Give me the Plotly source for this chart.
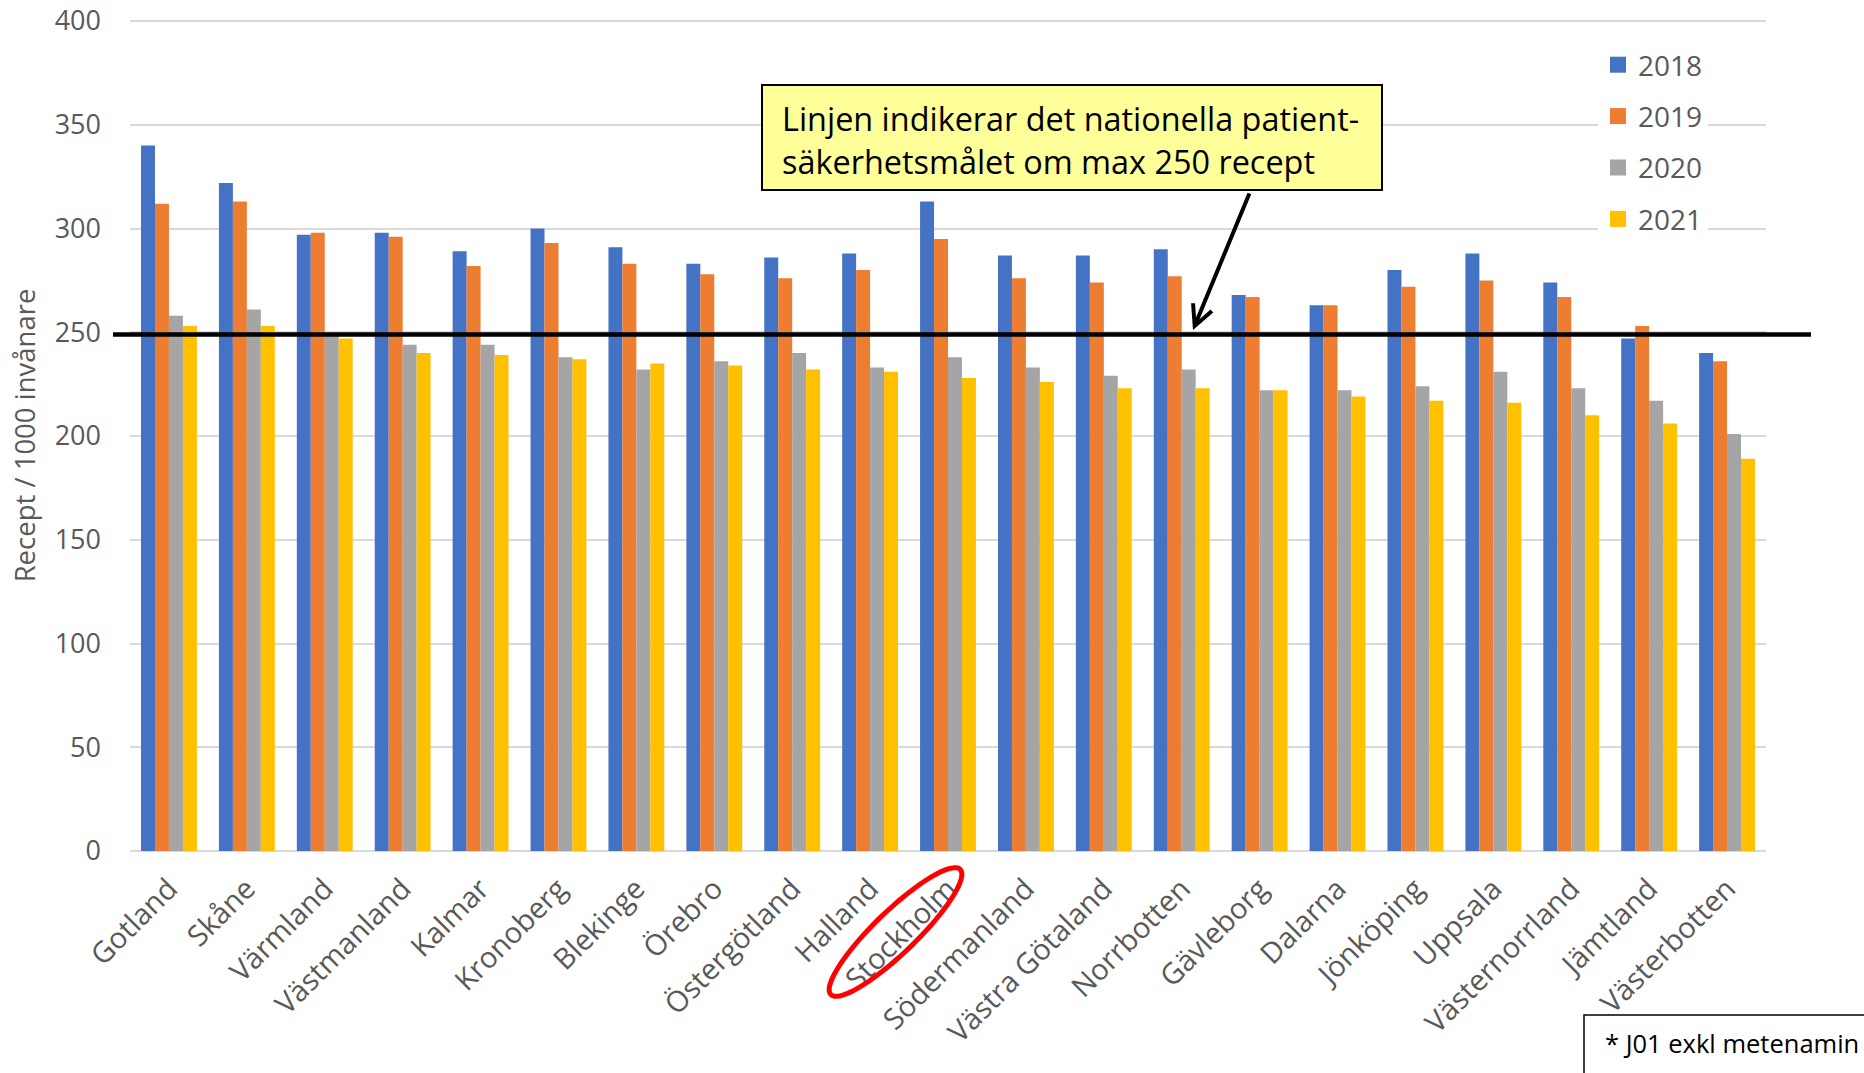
import math
import plotly.graph_objects as go

regions = ["Gotland", "Skåne", "Värmland", "Västmanland", "Kalmar", "Kronoberg",
           "Blekinge", "Örebro", "Östergötland", "Halland", "Stockholm",
           "Södermanland", "Västra Götaland", "Norrbotten", "Gävleborg", "Dalarna",
           "Jönköping", "Uppsala", "Västernorrland", "Jämtland", "Västerbotten"]

v2018 = [340, 322, 297, 298, 289, 300, 291, 283, 286, 288, 313, 287, 287, 290, 268, 263, 280, 288, 274, 247, 240]
v2019 = [312, 313, 298, 296, 282, 293, 283, 278, 276, 280, 295, 276, 274, 277, 267, 263, 272, 275, 267, 253, 236]
v2020 = [258, 261, 249, 244, 244, 238, 232, 236, 240, 233, 238, 233, 229, 232, 222, 222, 224, 231, 223, 217, 201]
v2021 = [253, 253, 247, 240, 239, 237, 235, 234, 232, 231, 228, 226, 223, 223, 222, 219, 217, 216, 210, 206, 189]

years = ["2018", "2019", "2020", "2021"]
colors = ["#4472C4", "#ED7D31", "#A5A5A5", "#FFC000"]
series = [v2018, v2019, v2020, v2021]

target = 248.9
y_ticks = [0, 50, 100, 150, 200, 250, 300, 350, 400]
y_max = 400.5

FONT = "Open Sans"
GREY = "#595959"

W, H = 1864, 1073
L, T = 130, 20
R = W - 1766
B = H - 851
PW, PH = W - L - R, H - T - B


def px_to_paper(px, py):
    return (px - L) / PW, (H - B - py) / PH


fig = go.Figure()
for name, vals, col in zip(years, series, colors):
    fig.add_trace(go.Bar(name=name, x=regions, y=vals, marker=dict(color=col, line=dict(width=0)),
                         showlegend=False))
# legend entries with bigger square symbols
for name, col in zip(years, colors):
    fig.add_trace(go.Scatter(name=name, x=[None], y=[None], mode="markers", legendgroup=name,
                             marker=dict(symbol="square", size=16, color=col)))

shapes = []
# target line
x0p, _ = px_to_paper(113, 0)
x1p, _ = px_to_paper(1811, 0)
shapes.append(dict(type="line", xref="paper", yref="y", x0=x0p, x1=x1p, y0=target, y1=target,
                   line=dict(color="black", width=4.5), layer="above"))

# callout box
bx0, by0 = px_to_paper(762, 190)
bx1, by1 = px_to_paper(1382, 85)
shapes.append(dict(type="rect", xref="paper", yref="paper", x0=bx0, x1=bx1, y0=by0, y1=by1,
                   fillcolor="#FFFF99", line=dict(color="black", width=2), layer="above"))

# red ellipse around Stockholm label
cx, cy, a, b, th = 895.5, 932, 90, 21, math.radians(44)
pts = []
for i in range(73):
    t = 2 * math.pi * i / 72
    px = cx + a * math.cos(t) * math.cos(th) - b * math.sin(t) * math.sin(th)
    py = cy - (a * math.cos(t) * math.sin(th) + b * math.sin(t) * math.cos(th))
    xp, yp = px_to_paper(px, py)
    pts.append(f"{xp:.5f},{yp:.5f}")
path = "M" + " L".join(pts) + " Z"
shapes.append(dict(type="path", xref="paper", yref="paper", path=path,
                   line=dict(color="#FF0000", width=5), layer="above"))

# footnote box
fx0, fy0 = px_to_paper(1584, 1085)
fx1, fy1 = px_to_paper(1875, 1015)
shapes.append(dict(type="rect", xref="paper", yref="paper", x0=fx0, x1=fx1, y0=fy0, y1=fy1,
                   fillcolor="white", line=dict(color="black", width=1.5), layer="above"))

annotations = []
tx, ty1 = px_to_paper(780, 118)
_, ty2 = px_to_paper(780, 161)
annotations.append(dict(xref="paper", yref="paper", x=tx, y=ty1, xanchor="left", yanchor="middle",
                        text="Linjen indikerar det nationella patient-", showarrow=False,
                        font=dict(family=FONT, size=32.4, color="black")))
annotations.append(dict(xref="paper", yref="paper", x=tx, y=ty2, xanchor="left", yanchor="middle",
                        text="säkerhetsmålet om max 250 recept", showarrow=False,
                        font=dict(family=FONT, size=32.4, color="black")))
# arrow
ax_, ay_ = px_to_paper(1193, 330)
annotations.append(dict(xref="paper", yref="paper", x=ax_, y=ay_, text="", showarrow=True,
                        ax=57, ay=-138, arrowhead=5, arrowsize=1, arrowwidth=4, arrowcolor="black"))
# footnote
nx, ny = px_to_paper(1603, 1043)
annotations.append(dict(xref="paper", yref="paper", x=nx, y=ny, xanchor="left", yanchor="middle",
                        text="* J01 exkl metenamin", showarrow=False,
                        font=dict(family=FONT, size=25.5, color="black")))

lx, ly = px_to_paper(1598, 40)

fig.update_layout(
    width=W, height=H,
    margin=dict(l=L, r=R, t=T, b=B, autoexpand=False),
    paper_bgcolor="white", plot_bgcolor="white",
    barmode="group", bargap=0.283, bargroupgap=0,
    font=dict(family=FONT, color=GREY),
    showlegend=True,
    legend=dict(x=lx, y=ly, xanchor="left", yanchor="top", bgcolor="white",
                font=dict(family=FONT, size=28, color=GREY), tracegroupgap=12,
                itemclick=False),
    xaxis=dict(type="category", tickangle=-45, tickfont=dict(family=FONT, size=29, color=GREY),
               showgrid=False, showline=False, ticks="", automargin=False, ticklabelstandoff=14,
               ticklabeloverflow="allow",
               range=[-0.5, len(regions) - 0.5]),
    yaxis=dict(range=[0, y_max], tickvals=y_ticks, showgrid=True, gridcolor="#D9D9D9", gridwidth=1.5,
               zeroline=True, zerolinecolor="#D9D9D9", zerolinewidth=1.5, automargin=False,
               tickfont=dict(family=FONT, size=27, color=GREY), ticklabelstandoff=28,
               ticklabeloverflow="allow",
               title=dict(text="Recept / 1000 invånare", font=dict(family=FONT, size=27.5, color=GREY),
                          standoff=11)),
    shapes=shapes,
    annotations=annotations,
)

fig.write_html("out.html", config={"displayModeBar": False},
               post_script="document.body.style.margin='0';")
